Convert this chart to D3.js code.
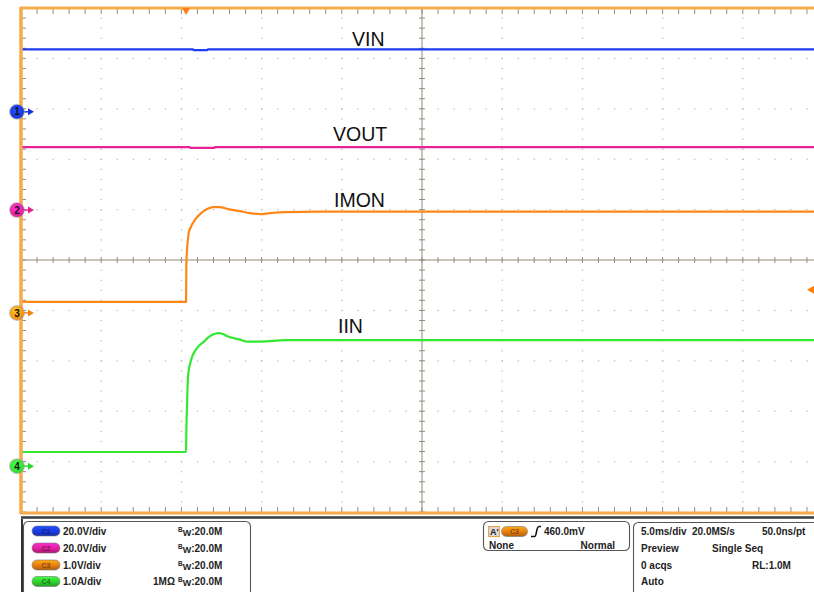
<!DOCTYPE html>
<html><head><meta charset="utf-8">
<script src="https://cdn.jsdelivr.net/npm/d3@7"></script>
<style>body{margin:0;background:#fff}svg{display:block}</style>
</head><body>
<svg id="c" width="814" height="592"></svg>
<script>
// ---------------- data ----------------
// time in ms from left edge of screen (5 ms/div, 10 div)
const tVIN  = [0, 10.72, 10.76, 11.62, 11.66, 50];
const VIN   = [24.8, 24.8, 24.5, 24.5, 24.8, 24.8];           // V, 20 V/div
const tVOUT = [0, 10.5, 10.56, 12.05, 12.1, 50];
const VOUT  = [25.0, 25.0, 24.7, 24.7, 25.0, 25.0];          // V, 20 V/div
const tIMON = [0, 10.29, 10.31, 10.36, 10.42, 10.47, 10.54, 10.85, 11.16, 11.6, 11.97, 12.41, 12.91, 13.65, 14.28, 14.9, 15.52, 16.46, 18.64, 50];
const IMON  = [0.22, 0.22, 0.95, 1.3, 1.5, 1.61, 1.67, 1.85, 1.96, 2.06, 2.10, 2.10, 2.06, 2.02, 1.98, 1.96, 1.98, 2.00, 2.01, 2.01]; // V, 1 V/div
const tIIN  = [0, 10.29, 10.31, 10.36, 10.42, 10.6, 10.97, 11.41, 11.66, 11.97, 12.28, 12.6, 12.91, 13.65, 14.09, 14.9, 16.5, 18.6, 50];
const IIN   = [0.28, 0.28, 0.72, 1.3, 1.81, 2.10, 2.34, 2.47, 2.55, 2.61, 2.64, 2.62, 2.57, 2.51, 2.47, 2.47, 2.50, 2.50, 2.50]; // A, 1 A/div

const channels = [
  {id:1, name:"VIN",  t:tVIN,  v:VIN,  scale:20, pos:2.94,  color:"#1f3cf0", mark:"#1733d8", label:"VIN",  smooth:false},
  {id:2, name:"VOUT", t:tVOUT, v:VOUT, scale:20, pos:0.99,  color:"#e8239a", mark:"#e0208f", label:"VOUT", smooth:false},
  {id:3, name:"IMON", t:tIMON, v:IMON, scale:1,  pos:-1.05, color:"#ff8718", mark:"#f08410", label:"IMON", smooth:true},
  {id:4, name:"IIN",  t:tIIN,  v:IIN,  scale:1,  pos:-4.09, color:"#33e833", mark:"#2ed62e", label:"IIN",  smooth:true}
];
const labelAt = {VIN:[352,46], VOUT:[333,141], IMON:[334,207], IIN:[338,333]};

const chanInfo = [
  {c:"C1", fill:"#1a3be0", scale:"20.0V/div", extra:""},
  {c:"C2", fill:"#e0209a", scale:"20.0V/div", extra:""},
  {c:"C3", fill:"#e67d10", scale:"1.0V/div",  extra:""},
  {c:"C4", fill:"#2fd02f", scale:"1.0A/div",  extra:"1MΩ"}
];
const horizRows = [
  ["5.0ms/div", "20.0MS/s", "50.0ns/pt"],
  ["Preview", "Single Seq", ""],
  ["0 acqs", "", "RL:1.0M"],
  ["Auto", "", ""]
];

// ---------------- layout ----------------
const svg = d3.select("#c");
const L = 21, T = 8, DIVX = 80.2, DIVY = 50.4;
const x = d3.scaleLinear().domain([0, 50]).range([L, L + 10*DIVX]);
const yDiv = d3.scaleLinear().domain([-5, 5]).range([T + 10*DIVY, T]);
const B = yDiv(-5), W = 814;
const frame = "#f5aa4c", tickC = "#948a78", dotC = "#b4b4b4";

svg.append("defs").html(`
 <clipPath id="plot"><rect x="${L+1}" y="${T+1}" width="${W-L}" height="${B-T-2}"/></clipPath>
`);

// grid dots
const g = svg.append("g");
const minorX = d3.range(0, 10.001, 0.2), minorY = d3.range(-5, 5.001, 0.2);
for (let k = 1; k < 10; k++) {
  if (k === 5) continue;
  minorY.forEach(d => g.append("rect").attr("x", L + k*DIVX - 0.5).attr("y", yDiv(d) - 0.5).attr("width", 1.2).attr("height", 1.2).attr("fill", dotC));
}
for (let k = -4; k <= 4; k++) {
  if (k === 0) continue;
  minorX.forEach(d => g.append("rect").attr("x", L + d*DIVX - 0.5).attr("y", yDiv(k) - 0.5).attr("width", 1.2).attr("height", 1.2).attr("fill", dotC));
}
// center crosshair
const cx = L + 5*DIVX, cy = yDiv(0);
g.append("line").attr("x1", L).attr("x2", W).attr("y1", cy).attr("y2", cy).attr("stroke", tickC).attr("stroke-width", 1);
g.append("line").attr("x1", cx).attr("x2", cx).attr("y1", T).attr("y2", B).attr("stroke", tickC).attr("stroke-width", 1);
minorX.forEach(d => {
  const xx = L + d*DIVX;
  g.append("line").attr("x1", xx).attr("x2", xx).attr("y1", cy-3).attr("y2", cy+3).attr("stroke", tickC);
  g.append("line").attr("x1", xx).attr("x2", xx).attr("y1", T+1).attr("y2", T+6).attr("stroke", tickC);
  g.append("line").attr("x1", xx).attr("x2", xx).attr("y1", B-5).attr("y2", B).attr("stroke", tickC);
});
minorY.forEach(d => {
  const yy = yDiv(d);
  g.append("line").attr("x1", cx-3).attr("x2", cx+3).attr("y1", yy).attr("y2", yy).attr("stroke", tickC);
  g.append("line").attr("x1", L).attr("x2", L+5).attr("y1", yy).attr("y2", yy).attr("stroke", tickC);
});

// traces
const tr = svg.append("g").attr("clip-path", "url(#plot)");
channels.forEach(ch => {
  const pts = ch.t.map((t, i) => [x(t), yDiv(ch.pos + ch.v[i]/ch.scale)]);
  const line = d3.line().curve(ch.smooth ? d3.curveMonotoneX : d3.curveLinear);
  tr.append("path").attr("d", line(pts)).attr("fill", "none")
    .attr("stroke", ch.color).attr("stroke-width", 2.2).attr("stroke-linejoin", "round");
  const p = labelAt[ch.label];
  svg.append("text").attr("x", p[0]).attr("y", p[1]).text(ch.label)
    .attr("font-family", "Liberation Sans, Arial, sans-serif").attr("font-size", 19.5).attr("fill", "#111");
});

// frame
svg.append("line").attr("x1", L-1).attr("x2", W).attr("y1", T).attr("y2", T).attr("stroke", frame).attr("stroke-width", 3);
svg.append("line").attr("x1", L).attr("x2", L).attr("y1", T-1).attr("y2", B+2).attr("stroke", frame).attr("stroke-width", 3.5);
svg.append("line").attr("x1", L-1).attr("x2", W).attr("y1", B+1).attr("y2", B+1).attr("stroke", frame).attr("stroke-width", 3);
svg.append("line").attr("x1", L).attr("x2", W).attr("y1", B+5.5).attr("y2", B+5.5).attr("stroke", "#3a3a3a").attr("stroke-width", 2.5);

// channel markers
const defs = svg.select("defs");
channels.forEach(ch => {
  const gid = "grad" + ch.id;
  const gr = defs.append("radialGradient").attr("id", gid).attr("cx", "40%").attr("cy", "35%").attr("r", "70%");
  gr.append("stop").attr("offset", "0%").attr("stop-color", d3.color(ch.mark).brighter(1.2));
  gr.append("stop").attr("offset", "100%").attr("stop-color", ch.mark);
  const yy = yDiv(ch.pos);
  svg.append("path").attr("d", `M24,${yy} L29,${yy}`).attr("stroke", ch.mark).attr("stroke-width", 1.5);
  svg.append("path").attr("d", `M28,${yy-3.5} L34,${yy} L28,${yy+3.5} Z`).attr("fill", ch.mark);
  svg.append("circle").attr("cx", 17).attr("cy", yy).attr("r", 8).attr("fill", "#9a9a9a").attr("opacity", 0.6);
  svg.append("circle").attr("cx", 17).attr("cy", yy).attr("r", 7).attr("fill", `url(#${gid})`);
  svg.append("text").attr("x", 17).attr("y", yy + 3.6).attr("text-anchor", "middle").text(ch.id)
    .attr("font-family", "Liberation Sans, Arial, sans-serif").attr("font-weight", "bold").attr("font-size", 10).attr("fill", "#111");
});
// trigger markers
const trigX = x(10.29);
svg.append("path").attr("d", `M${trigX-4},${T} L${trigX+4},${T} L${trigX},${T+7} Z`).attr("fill", "#ff7f10");
const trigY = yDiv(channels[2].pos + 0.46/1);
svg.append("path").attr("d", `M814,${trigY-4} L814,${trigY+4} L807,${trigY} Z`).attr("fill", "#ff7f10");

// ---------------- status bar ----------------
const font = "Liberation Sans, Arial, sans-serif";
const sb = svg.append("g").attr("font-family", font).attr("font-weight", "bold").attr("font-size", 10).attr("fill", "#222");
function panel(x0, y0, w, h) {
  sb.append("rect").attr("x", x0).attr("y", y0).attr("width", w).attr("height", h).attr("rx", 5)
    .attr("fill", "#fff").attr("stroke", "#555").attr("stroke-width", 1.1);
}
panel(23.5, 521.5, 227, 80);
panel(483.5, 521.5, 146, 29);
panel(633.5, 522.5, 200, 80);
svg.append("line").attr("x1", 22).attr("x2", 22).attr("y1", 519).attr("y2", 592).attr("stroke", "#333").attr("stroke-width", 2);

function pill(cx0, cy0, w, fill, label) {
  const id = "pg" + label + Math.round(cx0);
  const gr = defs.append("linearGradient").attr("id", id).attr("x1", 0).attr("y1", 0).attr("x2", 0).attr("y2", 1);
  gr.append("stop").attr("offset", "0%").attr("stop-color", d3.color(fill).brighter(0.9));
  gr.append("stop").attr("offset", "55%").attr("stop-color", fill);
  gr.append("stop").attr("offset", "100%").attr("stop-color", d3.color(fill).darker(0.8));
  sb.append("rect").attr("x", cx0 - w/2).attr("y", cy0 - 5).attr("width", w).attr("height", 10).attr("rx", 5)
    .attr("fill", `url(#${id})`).attr("stroke", "#777").attr("stroke-width", 0.6);
  sb.append("text").attr("x", cx0).attr("y", cy0 + 2.5).attr("text-anchor", "middle").attr("font-size", 7)
    .attr("fill", d3.color(fill).darker(1.5)).text(label);
}
const rowY = [531, 548, 565, 581.5];
chanInfo.forEach((c, i) => {
  const yy = rowY[i];
  pill(46, yy, 28, c.fill, c.c);
  sb.append("text").attr("x", 63).attr("y", yy + 3.5).text(c.scale);
  if (c.extra) sb.append("text").attr("x", 153).attr("y", yy + 3.5).text(c.extra);
  const t = sb.append("text").attr("x", 178).attr("y", yy + 3.5);
  t.append("tspan").attr("font-size", 6.5).attr("dy", -3).text("B");
  t.append("tspan").attr("font-size", 9).attr("dy", 4).text("W");
  t.append("tspan").attr("dy", -1).text(":20.0M");
});
// trigger panel
sb.append("rect").attr("x", 488.5).attr("y", 526.5).attr("width", 11).attr("height", 10).attr("fill", "#d8d8d8").attr("stroke", "#f0a040").attr("stroke-width", 1);
sb.append("text").attr("x", 490).attr("y", 535).attr("font-size", 9).text("A'");
pill(514.5, 531.5, 26, "#e67d10", "C3");
sb.append("path").attr("d", "M531,536.5 L534.5,536.5 C537,536.5 536,526.5 539,526.5 L541,526.5").attr("fill", "none").attr("stroke", "#111").attr("stroke-width", 1.6);
sb.append("text").attr("x", 544).attr("y", 535).text("460.0mV");
sb.append("text").attr("x", 489).attr("y", 549).text("None");
sb.append("text").attr("x", 615).attr("y", 549).attr("text-anchor", "end").text("Normal");
// horizontal panel
const colX = [641, 692, 762];
horizRows.forEach((r, i) => {
  const yy = rowY[i] + 3.5;
  if (r[0]) sb.append("text").attr("x", colX[0]).attr("y", yy).text(r[0]);
  if (i === 1 && r[1]) sb.append("text").attr("x", 712).attr("y", yy).text(r[1]);
  else if (r[1]) sb.append("text").attr("x", colX[1]).attr("y", yy).text(r[1]);
  if (r[2]) sb.append("text").attr("x", i === 2 ? 752 : colX[2]).attr("y", yy).text(r[2]);
});
</script>
</body></html>
